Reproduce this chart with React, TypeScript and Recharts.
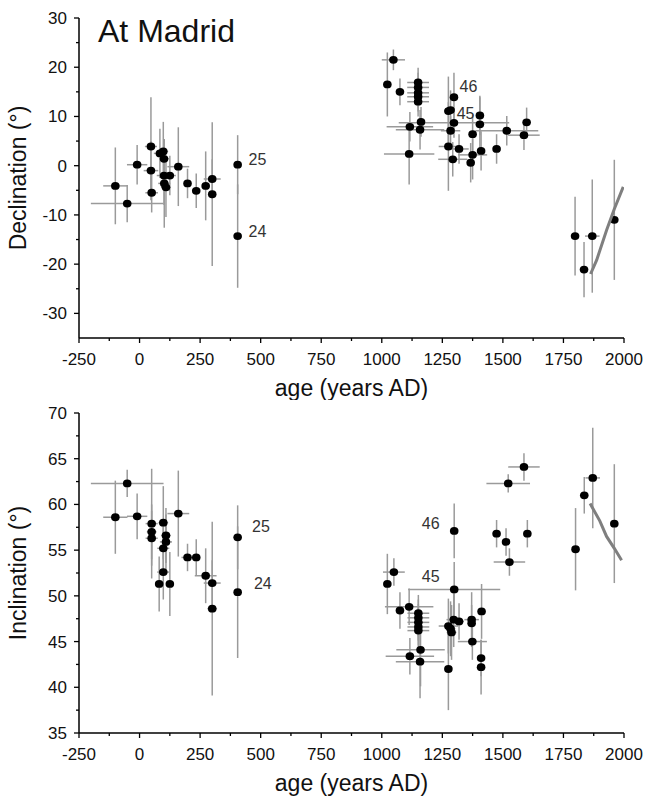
import React from 'react';
import { ScatterChart, Scatter, XAxis, YAxis, ErrorBar, Label } from 'recharts';

// ---------- tick labels ----------
const xTicks = [-250, 0, 250, 500, 750, 1000, 1250, 1500, 1750, 2000];
const xMinorTicks = [-125, 125, 375, 625, 875, 1125, 1375, 1625, 1875];
const decTicks = [-30, -20, -10, 0, 10, 20, 30];
const decMinorTicks = [-25, -15, -5, 5, 15, 25];
const incTicks = [35, 40, 45, 50, 55, 60, 65, 70];
const incMinorTicks = [37.5, 42.5, 47.5, 52.5, 57.5, 62.5, 67.5];

// ---------- Declination data ----------
const decAge = [
  -100, -51, -10, 47, 47, 50, 84, 98, 101, 101, 125, 102, 109, 160, 198, 234, 273, 300, 300, 405, 405,
  1048, 1023, 1075, 1150, 1150, 1150, 1150, 1150, 1162, 1116, 1158, 1113, 1298, 1275, 1284, 1298, 1284,
  1405, 1405, 1375, 1516, 1598, 1587, 1275, 1319, 1293, 1375, 1367, 1410, 1474,
  1798, 1835, 1869, 1960,
];
const decVal = [
  -4.1, -7.7, 0.2, 3.9, -1.0, -5.5, 2.5, 2.9, 1.4, -2.0, -2.0, -3.6, -4.4, -0.2, -3.6, -5.1, -4.1, -2.7, -5.8, 0.2, -14.3,
  21.5, 16.5, 15.0, 16.9, 15.9, 14.8, 14.0, 13.0, 8.9, 7.9, 7.3, 2.4, 13.9, 11.1, 11.3, 8.7, 7.1,
  10.2, 8.4, 6.4, 7.1, 8.8, 6.2, 3.9, 3.4, 1.3, 2.2, 0.6, 3.0, 3.4,
  -14.3, -21.1, -14.3, -11.0,
];
const decAgeErr = [
  50, 150, 42, 25, 30, 26, 25, 20, 20, 30, 25, 25, 20, 45, 15, 15, 15, 35, 15, 0, 0,
  48, 0, 0, 45, 45, 45, 45, 45, 0, 96, 100, 104, 0, 15, 10, 228, 40,
  0, 0, 0, 130, 0, 65, 40, 40, 60, 60, 0, 0, 0,
  0, 0, 30, 0,
];
const decValErr = [
  7.8, 3.8, 4, 10, 6, 4, 5, 6, 4, 6, 4, 9, 6, 8, 3, 3.5, 7, 4, 14.6, 6, 10.5,
  2.1, 6.5, 2.7, 3, 3, 3, 3, 3, 3, 3, 4, 6.2, 5, 7, 4, 3, 3,
  4, 5.5, 4, 3, 3, 3, 9, 3, 3.5, 5, 4, 4, 3,
  8, 5.6, 11.5, 12.2,
];
const decLineAge = [1862, 1887, 1928, 1960, 1997];
const decLineVal = [-22.0, -19.2, -13.1, -8.8, -4.3];
const decLabelText = ['25', '24', '46', '45'];
const decLabelAge = [487, 487, 1358, 1346];
const decLabelVal = [1.2, -13.4, 16.2, 10.6];

// ---------- Inclination data ----------
const incAge = [
  -100, -51, -10, 50, 50, 50, 98, 109, 109, 98, 98, 81, 125, 160, 198, 234, 273, 300, 300, 405, 405,
  1023, 1050, 1075, 1113, 1151, 1151, 1151, 1151, 1151, 1160, 1116, 1158, 1299, 1299,
  1275, 1284, 1288, 1297, 1319, 1275, 1371, 1371, 1374, 1412, 1410, 1410,
  1522, 1587, 1474, 1513, 1527, 1601,
  1800, 1836, 1871, 1960,
];
const incVal = [
  58.6, 62.3, 58.7, 57.9, 57.0, 56.3, 58.0, 56.6, 55.9, 55.2, 52.6, 51.3, 51.3, 59.0, 54.2, 54.2, 52.2, 51.4, 48.6, 56.4, 50.4,
  51.3, 52.6, 48.4, 48.8, 48.1, 47.6, 47.1, 46.6, 46.2, 44.1, 43.4, 42.8, 57.1, 50.7,
  46.7, 46.4, 46.0, 47.4, 47.2, 42.0, 47.4, 47.0, 45.0, 48.3, 43.2, 42.2,
  62.3, 64.1, 56.8, 55.9, 53.7, 56.8,
  55.1, 61.0, 62.9, 57.9,
];
const incAgeErr = [
  50, 150, 42, 25, 20, 25, 20, 20, 25, 25, 25, 0, 0, 45, 25, 0, 45, 35, 20, 0, 0,
  0, 45, 0, 100, 45, 45, 45, 45, 45, 100, 100, 100, 0, 190,
  40, 20, 20, 30, 20, 0, 30, 0, 60, 0, 0, 0,
  90, 65, 0, 0, 65, 0,
  0, 0, 30, 0,
];
const incValErr = [
  4.0, 1.5, 2.5, 6, 3, 3, 4, 3, 3, 3, 3, 3, 3.5, 4.7, 1.5, 2, 3, 2.5, 9.5, 3.5, 7.2,
  3.3, 1.5, 2, 2, 2, 2, 2, 2, 2, 4, 2, 4, 3, 3,
  3, 3, 3, 3, 2, 4.5, 3, 2, 2, 3, 2, 3,
  1, 1.5, 1.5, 1.5, 1.5, 1.5,
  4.5, 2, 5.5, 6.5,
];
const incLineAge = [1860, 1900, 1928, 1960, 1990];
const incLineVal = [60.1, 58.2, 56.5, 55.2, 53.9];
const incLabelText = ['25', '24', '46', '45'];
const incLabelAge = [501, 509, 1202, 1202];
const incLabelVal = [57.6, 51.4, 57.9, 52.1];

const FONT = '"Liberation Sans", Arial, Helvetica, sans-serif';

const mkPoints = (ages: number[], vals: number[], ae: number[], ve: number[]) =>
  ages.map((a, i) => ({ x: a, y: vals[i], ex: ae[i], ey: ve[i] }));
const mkLine = (ages: number[], vals: number[]) => ages.map((a, i) => ({ x: a, y: vals[i] }));
const mkLabels = (t: string[], ages: number[], vals: number[]) =>
  ages.map((a, i) => ({ x: a, y: vals[i], t: t[i] }));

const makeXTick = () => (props: any) => {
  const { x, y, payload } = props;
  const v = payload.value;
  const major = xTicks.includes(v);
  return (
    <g>
      <line x1={x} x2={x} y1={y} y2={y + (major ? 5 : 3)} stroke="#000" strokeWidth={1.3} />
      {major && (
        <text x={x} y={y + 27} textAnchor="middle" fontSize={17} fill="#111" fontFamily={FONT}>
          {v}
        </text>
      )}
    </g>
  );
};

const makeYTick = (majors: number[]) => (props: any) => {
  const { x, y, payload } = props;
  const v = payload.value;
  const major = majors.includes(v);
  return (
    <g>
      <line x1={x} x2={x - (major ? 5 : 3)} y1={y} y2={y} stroke="#000" strokeWidth={1.3} />
      {major && (
        <text x={x - 12} y={y + 6} textAnchor="end" fontSize={17} fill="#111" fontFamily={FONT}>
          {v}
        </text>
      )}
    </g>
  );
};

const Dot = (props: any) => {
  const { cx, cy } = props;
  if (cx == null || cy == null) return <g />;
  return <ellipse cx={cx} cy={cy} rx={4.3} ry={3.9} fill="#000" />;
};

const LabelShape = (props: any) => {
  const { cx, cy, payload } = props;
  return (
    <text x={cx} y={cy} dy="0.35em" textAnchor="middle" fontSize={16} fill="#333" fontFamily={FONT}>
      {payload.t}
    </text>
  );
};

const Empty = () => <g />;

const xTitle = (props: any) => {
  const vb = props.viewBox;
  return (
    <text x={vb.x + vb.width / 2} y={vb.y + 58} textAnchor="middle" fontSize={23} fill="#111" fontFamily={FONT}>
      age (years AD)
    </text>
  );
};

const yTitle = (text: string) => (props: any) => {
  const vb = props.viewBox;
  const cx = 26;
  const cy = vb.y + vb.height / 2;
  return (
    <text x={cx} y={cy} transform={`rotate(-90, ${cx}, ${cy})`} textAnchor="middle" fontSize={23} fill="#111" fontFamily={FONT}>
      {text}
    </text>
  );
};

interface PanelProps {
  height: number;
  marginTop: number;
  xAxisHeight: number;
  yDomain: [number, number];
  yMajor: number[];
  yMinor: number[];
  yLabel: string;
  points: any[];
  line: any[];
  labels: any[];
}

const Panel = (p: PanelProps) => {
  const allX = [...xTicks, ...xMinorTicks].sort((a, b) => a - b);
  const allY = [...p.yMajor, ...p.yMinor].sort((a, b) => a - b);
  return (
    <ScatterChart width={645} height={p.height} margin={{ top: p.marginTop, right: 21, left: 0, bottom: 0 }}>
      <XAxis
        type="number"
        dataKey="x"
        domain={[-250, 2000]}
        ticks={allX}
        interval={0}
        allowDataOverflow
        height={p.xAxisHeight}
        tickSize={0}
        tickMargin={0}
        tickLine={false}
        tick={makeXTick()}
        axisLine={{ stroke: '#000', strokeWidth: 1.5 }}
      >
        <Label content={xTitle} />
      </XAxis>
      <YAxis
        type="number"
        dataKey="y"
        domain={p.yDomain}
        ticks={allY}
        interval={0}
        allowDataOverflow
        width={79}
        tickSize={0}
        tickMargin={0}
        tickLine={false}
        tick={makeYTick(p.yMajor)}
        axisLine={{ stroke: '#000', strokeWidth: 1.5 }}
      >
        <Label content={yTitle(p.yLabel)} />
      </YAxis>
      <Scatter data={p.points} shape={Dot} isAnimationActive={false}>
        <ErrorBar dataKey="ex" direction="x" width={0} stroke="#9a9a9a" strokeWidth={1.5} />
        <ErrorBar dataKey="ey" direction="y" width={0} stroke="#9a9a9a" strokeWidth={1.5} />
      </Scatter>
      <Scatter
        data={p.line}
        shape={Empty}
        line={{ stroke: '#7f7f7f', strokeWidth: 3 }}
        lineType="joint"
        isAnimationActive={false}
      />
      <Scatter data={p.labels} shape={LabelShape} isAnimationActive={false} />
    </ScatterChart>
  );
};

export default function App() {
  return (
    <div style={{ position: 'absolute', left: 0, top: 0, width: 645, height: 806, background: '#fff' }}>
      <div style={{ position: 'absolute', left: 0, top: 0 }}>
        <Panel
          height={400}
          marginTop={18}
          xAxisHeight={62}
          yDomain={[-35, 30]}
          yMajor={decTicks}
          yMinor={decMinorTicks}
          yLabel="Declination (°)"
          points={mkPoints(decAge, decVal, decAgeErr, decValErr)}
          line={mkLine(decLineAge, decLineVal)}
          labels={mkLabels(decLabelText, decLabelAge, decLabelVal)}
        />
      </div>
      <div style={{ position: 'absolute', left: 0, top: 400 }}>
        <Panel
          height={406}
          marginTop={13}
          xAxisHeight={73}
          yDomain={[35, 70]}
          yMajor={incTicks}
          yMinor={incMinorTicks}
          yLabel="Inclination (°)"
          points={mkPoints(incAge, incVal, incAgeErr, incValErr)}
          line={mkLine(incLineAge, incLineVal)}
          labels={mkLabels(incLabelText, incLabelAge, incLabelVal)}
        />
      </div>
      <div
        style={{
          position: 'absolute',
          left: 98,
          top: 15,
          fontFamily: FONT,
          fontSize: 32,
          lineHeight: '32px',
          color: '#111',
          whiteSpace: 'nowrap',
        }}
      >
        At Madrid
      </div>
    </div>
  );
}
